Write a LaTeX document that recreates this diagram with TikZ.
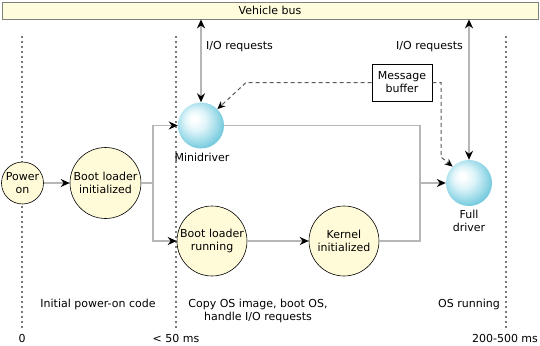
\documentclass[tikz,border=0pt]{standalone}
\usepackage{fontspec}
\setmainfont{DejaVu Sans}
\usetikzlibrary{arrows.meta}
\definecolor{cfill}{RGB}{255,251,217}
\definecolor{busfill}{RGB}{255,253,220}
\definecolor{lgray}{RGB}{182,182,182}
\definecolor{dgray}{RGB}{90,90,90}
\definecolor{vgray}{RGB}{120,120,120}
\definecolor{sphL}{RGB}{222,244,249}
\definecolor{sphM}{RGB}{172,225,237}
\definecolor{sphD}{RGB}{120,203,222}
\pgfdeclareradialshading{sph}{\pgfpoint{-8bp}{8bp}}{color(0bp)=(white); color(3bp)=(white); color(12bp)=(sphL); color(20bp)=(sphM); color(28bp)=(sphD); color(50bp)=(sphD)}
\newcommand\dfont{\fontsize{11}{13}\selectfont}
\tikzset{
  state/.style={circle, draw=black, line width=0.6pt, fill=cfill, inner sep=0pt, minimum size=#1, align=center, font=\dfont},
  sphere/.style={circle, shading=sph, inner sep=0pt, minimum size=46pt},
  conn/.style={draw=lgray, line width=1.5pt},
  arr/.style={conn, -{Stealth[black,length=9pt,width=8pt]}},
  dbl/.style={conn, {Stealth[black,length=9pt,width=8pt]}-{Stealth[black,length=9pt,width=8pt]}},
  dashconn/.style={draw=dgray, line width=1pt, dash pattern=on 4pt off 3pt, -{Stealth[black,length=8pt,width=7pt]}},
  tl/.style={font=\dfont, inner sep=0pt},
  vdot/.style={draw=vgray, line width=1.6pt, dash pattern=on 1.6pt off 3.4pt},
  busbox/.style={draw=gray, line width=0.8pt, fill=busfill, minimum width=536pt, minimum height=17pt, inner sep=0pt, font=\dfont},
  bufbox/.style={draw=black, line width=0.6pt, fill=white, minimum width=60pt, minimum height=37pt, inner sep=0pt, align=center, font=\dfont}
}
\begin{document}
\begin{tikzpicture}[x=1pt, y=-1pt]
\useasboundingbox (0,0) rectangle (540,345);
% phase separators
\draw[vdot] (22,36) -- (22,328);
\draw[vdot] (176,36) -- (176,328);
\draw[vdot] (506,36) -- (506,328);
% bus
\node[busbox] (bus) at (270,10.5) {Vehicle bus};
% nodes
\node[state=42pt] (pwr) at (22.5,183) {Power\\on};
\node[state=71pt] (bli) at (105.5,183) {Boot loader\\initialized};
\node[sphere] (mini) at (201,125.5) {};
\node[tl] (minil) at (202,157) {Minidriver};
\node[state=70pt] (blr) at (212,241) {Boot loader\\running};
\node[state=70pt] (ker) at (344,241) {Kernel\\initialized};
\node[sphere] (full) at (469,183) {};
\node[tl, align=center] (fulll) at (469,220.5) {Full\\driver};
\node[bufbox] (buf) at (402,82.5) {Message\\buffer};
% connectors
\coordinate (br) at (153,183);
\coordinate (jn) at (420,183);
\draw[arr] (pwr) -- (bli);
\draw[conn] (bli.east) -- (br);
\draw[arr] (br) |- (mini.west);
\draw[arr] (br) |- (blr.west);
\draw[arr] (blr) -- (ker);
\draw[conn] (mini.east) -| (jn);
\draw[conn] (ker.east) -| (jn);
\draw[arr] (jn) -- (full.west);
\draw[dbl] (mini.north) -- (mini.north |- bus.south);
\draw[dbl] (full.north) -- (full.north |- bus.south);
\coordinate (d1) at (246,82.5);
\coordinate (d2) at (441,82.5);
\coordinate (d3) at (441,157);
\draw[dashconn] (buf.west) -- (d1) -- (mini.45);
\draw[dashconn] (buf.east) -- (d2) -- (d3) -- (full.135);
% labels
\node[tl, anchor=west] (io1) at (206,47) {I/O requests};
\node[tl, anchor=east] (io2) at (463,47) {I/O requests};
\node[tl] (ph1) at (98,304) {Initial power-on code};
\node[tl, align=center] (ph2) at (258,310.5) {Copy OS image, boot OS,\\handle I/O requests};
\node[tl, anchor=east] (ph3) at (500,304) {OS running};
\node[tl] (t0) at (22,338) {0};
\node[tl] (t1) at (176,338) {< 50 ms};
\node[tl] (t2) at (505,338) {200-500 ms};
\end{tikzpicture}
\end{document}
